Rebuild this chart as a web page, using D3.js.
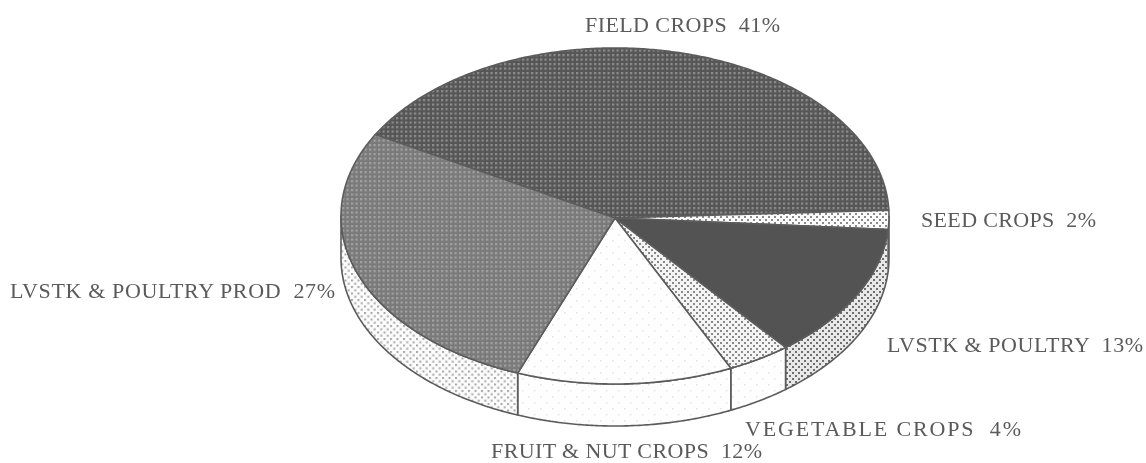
<!DOCTYPE html>
<html><head><meta charset="utf-8">
<script src="https://cdn.jsdelivr.net/npm/d3@7"></script>
<style>html,body{margin:0;padding:0;background:#fff}svg{display:block}</style>
</head><body><svg id="c" width="1146" height="463"></svg>
<script>
const categories = ["FIELD CROPS","SEED CROPS","LVSTK & POULTRY","VEGETABLE CROPS","FRUIT & NUT CROPS","LVSTK & POULTRY PROD"];
const values = [41,2,13,4,12,27];
// sector sizes as drawn in the picture (degrees, read from the slice edges)
const drawnSectors = [149,6.6,46.9,13.5,45.8,98.2];

// styling / layout, separate from the data
const cx=615, cy=216, rx=274, ry=168, depth=42, apexY=218;
const topStyle = [
  {base:"#565656",dot:"#8e8e8e",s:4.5,r:2.2,grid:true},{base:"#fafafa",dot:"#8a8a8a",s:6,r:2},{base:"#525252",dot:"#525252",s:6,r:2},
  {base:"#f4f4f4",dot:"#8a8a8a",s:6,r:2},{base:"#fefefe",dot:"#e4e4e4",s:12,r:1.5},{base:"#7a7a7a",dot:"#a2a2a2",s:4.5,r:2.2,grid:true}];
const sideStyle = [
  {base:"#565656",dot:"#8e8e8e",s:4.5,r:2.2,grid:true},{base:"#fafafa",dot:"#8a8a8a",s:6,r:2},{base:"#e8e8e8",dot:"#6e6e6e",s:6,r:2},
  {base:"#fefefe",dot:"#e4e4e4",s:12,r:1.5},{base:"#fefefe",dot:"#e4e4e4",s:12,r:1.5},{base:"#fcfcfc",dot:"#a6a6a6",s:6.5,r:2}];
const labelPos = [
  {x:585,y:32,w:195},{x:921,y:227,w:175},{x:887,y:352,w:256},{x:745,y:436,w:276},{x:491,y:458,w:271},{x:10,y:298,w:325}];

const svg=d3.select("#c");
const defs=svg.append("defs");
defs.append("filter").attr("id","soft").append("feGaussianBlur").attr("stdDeviation",0.5);
function pattern(id,st){
  const p=defs.append("pattern").attr("id",id).attr("patternUnits","userSpaceOnUse")
    .attr("width",st.s).attr("height",st.s);
  p.append("rect").attr("width",st.s).attr("height",st.s).attr("fill",st.base);
  const h=st.s/2;
  (st.grid?[[0,0]]:[[0,0],[h,h]]).forEach(([x,y])=>p.append("rect").attr("x",x).attr("y",y).attr("width",st.r).attr("height",st.r).attr("fill",st.dot));
}
topStyle.forEach((s,i)=>pattern("t"+i,s));
sideStyle.forEach((s,i)=>pattern("s"+i,s));

const deg=Math.PI/180;
const arcs=d3.pie().sort(null).startAngle(-61*deg).endAngle(299*deg)(drawnSectors);
const xs=d3.scaleLinear().domain([-1,1]).range([cx-rx,cx+rx]);
const ys=d3.scaleLinear().domain([-1,1]).range([cy-ry,cy+ry]);
const pt=(a,dy=0)=>[xs(Math.sin(a)),ys(-Math.cos(a))+dy];
const samples=(a0,a1)=>{const n=Math.max(2,Math.ceil((a1-a0)/(0.5*deg)));return d3.range(n+1).map(i=>a0+(a1-a0)*i/n);};
const line=d3.line();
const g=svg.append("g").attr("filter","url(#soft)");

// side wall (visible only on the front half)
arcs.forEach((d,i)=>{
  const a0=Math.max(d.startAngle,90*deg), a1=Math.min(d.endAngle,270*deg);
  if(a1<=a0) return;
  const s=samples(a0,a1);
  const p=[...s.map(a=>pt(a)),...s.slice().reverse().map(a=>pt(a,depth))];
  g.append("path").attr("d",line(p)+"Z").attr("fill",`url(#s${i})`)
    .attr("stroke","#5c5c5c").attr("stroke-width",1.6).attr("stroke-linejoin","round");
});
// top face
arcs.forEach((d,i)=>{
  const p=[[cx,apexY],...samples(d.startAngle,d.endAngle).map(a=>pt(a))];
  g.append("path").attr("d",line(p)+"Z").attr("fill",`url(#t${i})`)
    .attr("stroke","#5c5c5c").attr("stroke-width",1.6).attr("stroke-linejoin","round");
});
// labels
svg.append("g").selectAll("text").data(categories).join("text")
  .attr("x",(d,i)=>labelPos[i].x).attr("y",(d,i)=>labelPos[i].y)
  .attr("textLength",(d,i)=>labelPos[i].w).attr("lengthAdjust","spacing")
  .attr("font-family","'Liberation Serif',serif").attr("font-size",22).attr("fill","#5a5a5a")
  .style("white-space","pre").attr("filter","url(#soft)")
  .text((d,i)=>`${d}  ${values[i]}%`);
</script></body></html>
